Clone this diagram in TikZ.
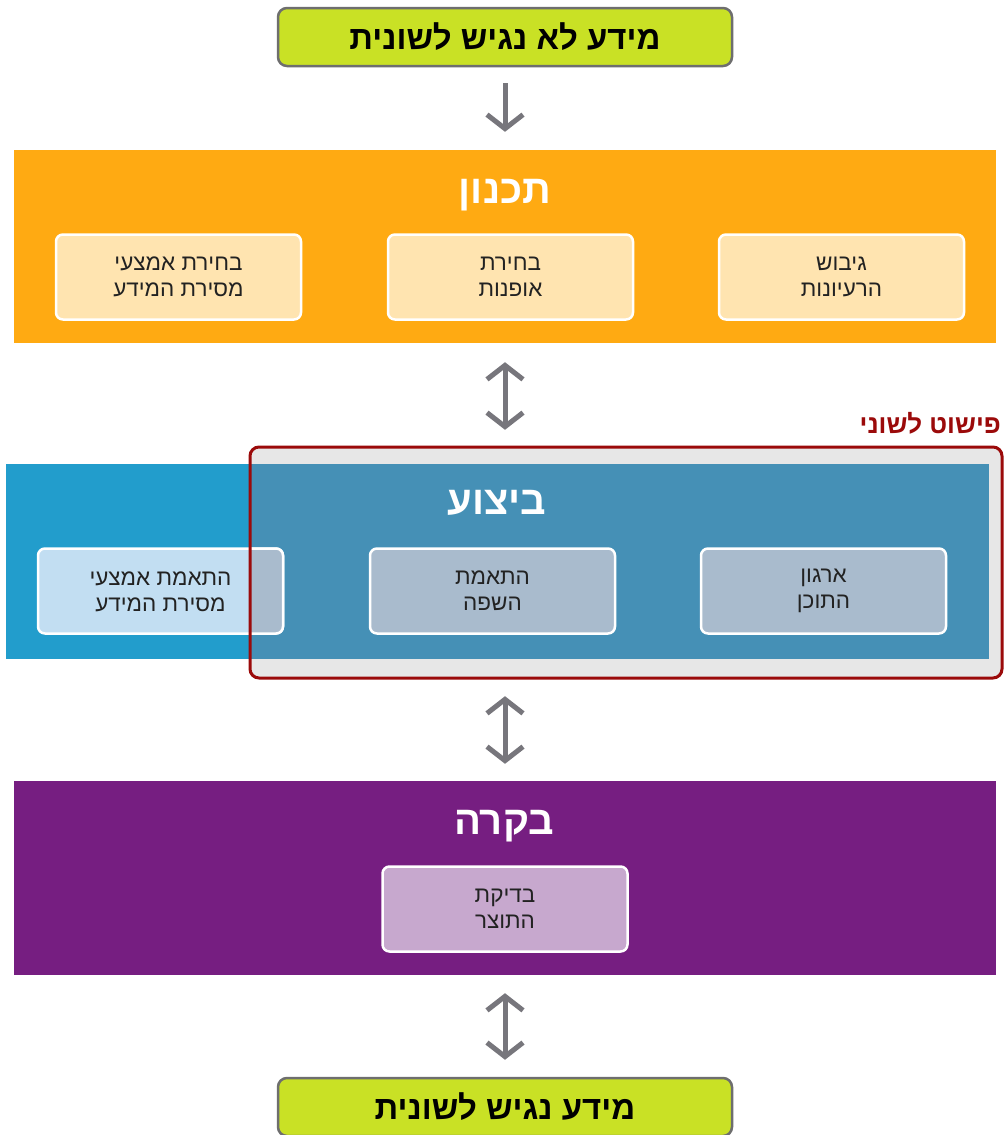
\documentclass[tikz,border=0pt]{standalone}
\usepackage{fontspec}
\TeXXeTstate=1
\newfontfamily\heb[Script=Hebrew]{Liberation Sans}
\usetikzlibrary{arrows.meta}
\newcommand{\rl}[1]{\beginR #1\endR}
\definecolor{cLime}{HTML}{C9E125}
\definecolor{cLimeBorder}{HTML}{6E6E6E}
\definecolor{cOrange}{HTML}{FFAA12}
\definecolor{cOrangeBox}{HTML}{FFE4B0}
\definecolor{cBlue}{HTML}{229DCC}
\definecolor{cBlueDark}{HTML}{4590B6}
\definecolor{cFrameFill}{HTML}{E7E7E7}
\definecolor{cFrame}{HTML}{9B0A0A}
\definecolor{cBlueBox}{HTML}{C2DEF2}
\definecolor{cBlueBoxDark}{HTML}{A9BBCD}
\definecolor{cPurple}{HTML}{761E81}
\definecolor{cPurpleBox}{HTML}{C7A8CE}
\definecolor{cArrow}{HTML}{77767C}
\definecolor{cText}{HTML}{222222}
\begin{document}
\begin{tikzpicture}[x=1pt,y=-1pt,font=\heb,
  band/.style={draw=none,inner sep=0pt,minimum width=982pt,minimum height=193pt},
  endbox/.style={draw=cLimeBorder,line width=2.5pt,fill=cLime,rounded corners=9pt,
     minimum width=454pt,minimum height=58pt,inner sep=0pt,
     font=\heb\bfseries\fontsize{33}{38}\selectfont,text=black},
  subbox/.style={draw=white,line width=2.5pt,rounded corners=7pt,
     minimum width=245pt,minimum height=85pt,inner sep=0pt,align=center,
     font=\heb\fontsize{22.5}{26}\selectfont,text=cText},
  title/.style={text=white,font=\heb\bfseries\fontsize{40}{44}\selectfont,inner sep=0pt},
  arr/.style={draw=cArrow,line width=5pt,-{Straight Barb[length=14pt,width=36pt]}},
  darr/.style={draw=cArrow,line width=5pt,{Straight Barb[length=14pt,width=36pt]}-{Straight Barb[length=14pt,width=36pt]}}
]
\useasboundingbox (0,0) rectangle (1008,1135);
\fill[white] (0,0) rectangle (1008,1135);

% top
\node[endbox] (top) at (505,37) {\rl{מידע לא נגיש לשונית}};

% planning
\node[band,fill=cOrange] (plan) at (505,246.5) {};
\node[title] (planT) at (505,195) {\rl{תכנון}};
\node[subbox,fill=cOrangeBox] (p1) at (178.5,277) {\rl{בחירת אמצעי}\\\rl{מסירת המידע}};
\node[subbox,fill=cOrangeBox] (p2) at (510.5,277) {\rl{בחירת}\\\rl{אופנות}};
\node[subbox,fill=cOrangeBox] (p3) at (841.5,277) {\rl{גיבוש}\\\rl{הרעיונות}};

% execution with frame
\node[fill=cFrameFill,rounded corners=9pt,inner sep=0pt,minimum width=752pt,minimum height=231pt] (frame) at (626,562.5) {};
\node[band,fill=cBlue,minimum width=983pt,minimum height=195pt] (exec) at (497.5,561.5) {};
\begin{scope}
  \clip (frame.north west) rectangle (frame.south east);
  \node[band,fill=cBlueDark,minimum width=983pt,minimum height=195pt] (execDark) at (497.5,561.5) {};
\end{scope}
\node[subbox,fill=cBlueBox] (e1) at (160.5,591) {};
\begin{scope}
  \clip (frame.north west) rectangle (frame.south east);
  \node[subbox,fill=cBlueBoxDark] (e1dark) at (160.5,591) {};
\end{scope}
\node[subbox,draw=none,fill=none] (e1text) at (160.5,591.5) {\rl{התאמת אמצעי}\\\rl{מסירת המידע}};
\node[subbox,fill=cBlueBoxDark] (e2) at (492.5,591) {\rl{התאמת}\\\rl{השפה}};
\node[subbox,fill=cBlueBoxDark] (e3) at (823.5,591) {\rl{ארגון}\\\rl{התוכן}};
\node[title] (execT) at (497,503) {\rl{ביצוע}};
\node[draw=cFrame,line width=3pt,rounded corners=9pt,inner sep=0pt,minimum width=752pt,minimum height=231pt] (frameBorder) at (626,562.5) {};
\node[anchor=east,text=cFrame,font=\heb\bfseries\fontsize{26}{30}\selectfont,inner sep=0pt] (simpl) at (1001,423) {\rl{פישוט לשוני}};

% control
\node[band,fill=cPurple,minimum height=194pt] (ctrl) at (505,878) {};
\node[title] (ctrlT) at (504,826) {\rl{בקרה}};
\node[subbox,fill=cPurpleBox] (c1) at (505,909) {\rl{בדיקת}\\\rl{התוצר}};

% bottom
\node[endbox] (bot) at (505,1107) {\rl{מידע נגיש לשונית}};

% arrows
\draw[arr,shorten <=16pt,shorten >=18pt] (top.south) -- (plan.north);
\draw[darr,shorten <=19pt,shorten >=17pt] (plan.south) -- (plan.south |- frame.north);
\draw[darr,shorten <=18pt,shorten >=17pt] (frame.south -| ctrl.north) -- (ctrl.north);
\draw[darr,shorten <=18pt,shorten >=17pt] (ctrl.south) -- (bot.north);
\end{tikzpicture}
\end{document}
